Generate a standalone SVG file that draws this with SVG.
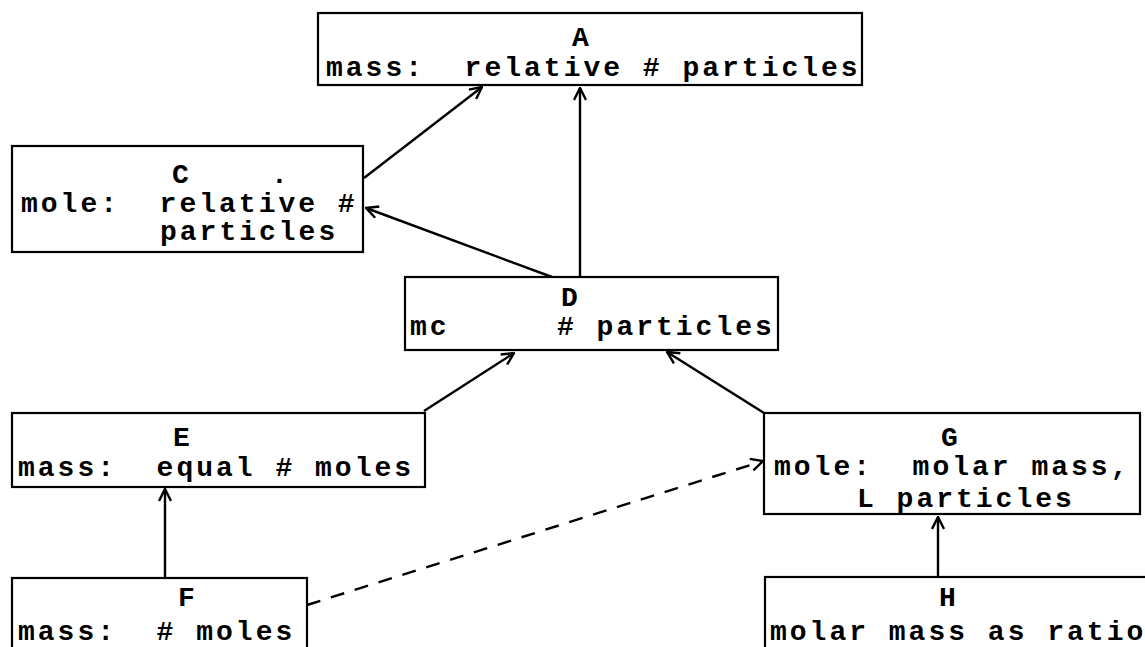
<svg xmlns="http://www.w3.org/2000/svg" width="1145" height="647" viewBox="0 0 1145 647">
<defs>
<marker id="arr" viewBox="0 0 14 14" refX="13" refY="7" markerWidth="14" markerHeight="14" markerUnits="userSpaceOnUse" orient="auto">
<path d="M1,1 L13,7 L1,13" fill="none" stroke="#000" stroke-width="2.4"/>
</marker>
<style>
.box{fill:#fff;stroke:#000;stroke-width:2.2}
text{font-family:"Liberation Mono","Courier New",monospace;font-size:28px;letter-spacing:3px;font-weight:bold;fill:#000;white-space:pre}
.c{fill:none;stroke:#000;stroke-width:2.4;marker-end:url(#arr)}
.d{stroke-dasharray:14 11}
</style>
</defs>
<rect width="1145" height="647" fill="#fff"/>
<g id="connectors">
<line class="c" x1="364" y1="178" x2="482" y2="87"/>
<line class="c" x1="580" y1="277" x2="580" y2="88"/>
<line class="c" x1="552" y1="277" x2="366" y2="208"/>
<line class="c" x1="424" y1="411" x2="514" y2="353"/>
<line class="c" x1="764" y1="413" x2="667" y2="352"/>
<line class="c" x1="165" y1="578" x2="165" y2="489"/>
<line class="c d" x1="307" y1="605" x2="763" y2="461"/>
<line class="c" x1="938" y1="577" x2="938" y2="517"/>
</g>
<g id="A">
<rect class="box" x="318" y="13" width="544" height="72"/>
<text x="572" y="46">A</text>
<text x="326" y="76">mass:  relative # particles</text>
</g>
<g id="C">
<rect class="box" x="12" y="146" width="351" height="106"/>
<text x="172" y="183">C    .</text>
<text x="21" y="212">mole:  relative #</text>
<text x="160" y="240">particles</text>
</g>
<g id="D">
<rect class="box" x="405" y="277" width="373" height="73"/>
<text x="561" y="306">D</text>
<text x="410" y="335">mc</text>
<text x="557" y="335"># particles</text>
</g>
<g id="E">
<rect class="box" x="12" y="413" width="413" height="74"/>
<text x="173" y="446">E</text>
<text x="18" y="476">mass:  equal # moles</text>
</g>
<g id="F">
<rect class="box" x="12" y="578" width="295" height="80"/>
<text x="178" y="606">F</text>
<text x="18" y="640">mass:  # moles</text>
</g>
<g id="G">
<rect class="box" x="764" y="413" width="376" height="101"/>
<text x="941" y="446">G</text>
<text x="774" y="475">mole:  molar mass,</text>
<text x="857" y="507">L particles</text>
</g>
<g id="H">
<rect class="box" x="765" y="577" width="390" height="80"/>
<text x="939" y="606">H</text>
<text x="770" y="640" letter-spacing="2.8">molar mass as ratio</text>
</g>
</svg>
